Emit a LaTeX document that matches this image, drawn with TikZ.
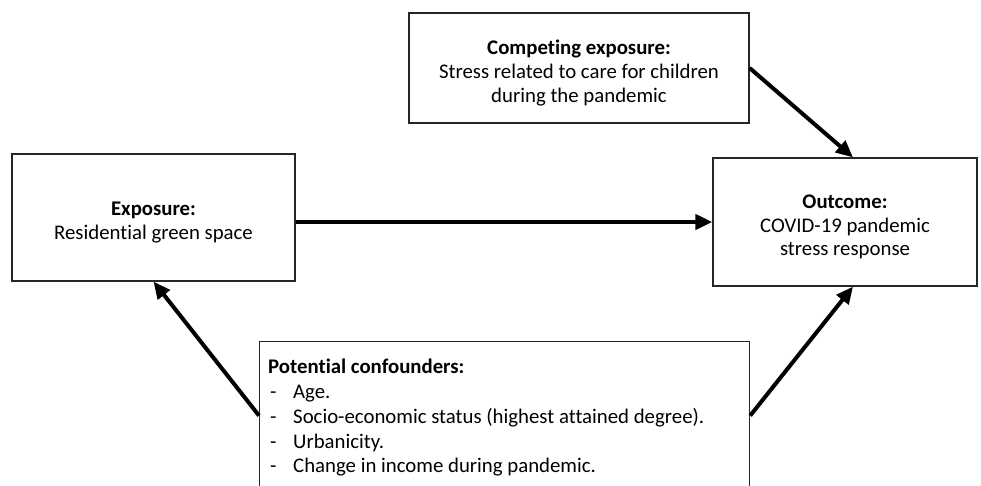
\documentclass[tikz,border=0pt]{standalone}
\usepackage{fontspec}
\setmainfont{Carlito}[Ligatures={NoCommon}]
\usetikzlibrary{arrows.meta}
\begin{document}
\begin{tikzpicture}[x=1pt,y=-1pt,
  box/.style={draw=black!85, line width=1.2pt, inner sep=0pt},
  txt/.style={align=center, inner sep=0pt, yshift=-5pt,
    font=\fontsize{20.8}{23.7}\selectfont},
  ln/.style={anchor=base west, inner sep=0pt, font=\fontsize{20.8}{25}\selectfont},
  conn/.style={line width=4pt, -{Triangle[length=17pt,width=15pt]}}]
\useasboundingbox (0,0) rectangle (981,486);
\clip (0,0) rectangle (981,486);
\fill[white] (0,0) rectangle (981,486);
\node[box, minimum width=340pt, minimum height=110pt] (comp) at (579,68) {};
\node[txt] (compt) at (comp.center)
  {\textbf{Competing exposure:}\\Stress related to care for children\\during the pandemic};
\node[box, minimum width=283pt, minimum height=127pt] (expo) at (153.5,217.5) {};
\node[txt] (expot) at (expo.center) {\textbf{Exposure:}\\Residential green space};
\node[box, minimum width=264pt, minimum height=128pt] (outc) at (845,222) {};
\node[txt] (outct) at (outc.center) {\textbf{Outcome:}\\COVID-19 pandemic\\stress response};
\node[box, minimum width=490pt, minimum height=148pt, anchor=north west] (conf) at (259,341) {};
\node[ln] (c0) at (268,373) {\textbf{Potential confounders:}};
\node[ln] (d1) at (270,398) {-};
\node[ln] (c1) at (293,398) {Age.};
\node[ln] (d2) at (270,423) {-};
\node[ln] (c2) at (293,423) {Socio-economic status (highest attained degree).};
\node[ln] (d3) at (270,448) {-};
\node[ln] (c3) at (293,448) {Urbanicity.};
\node[ln] (d4) at (270,472) {-};
\node[ln] (c4) at (293,472) {Change in income during pandemic.};
\draw[conn] (expo.east |- outc.west) -- (outc.west);
\draw[conn] (comp.east) -- ([xshift=8pt]outc.north);
\draw[conn] (conf.west) -- (expo.south);
\draw[conn] (conf.east) -- ([xshift=8pt]outc.south);
\end{tikzpicture}
\end{document}
